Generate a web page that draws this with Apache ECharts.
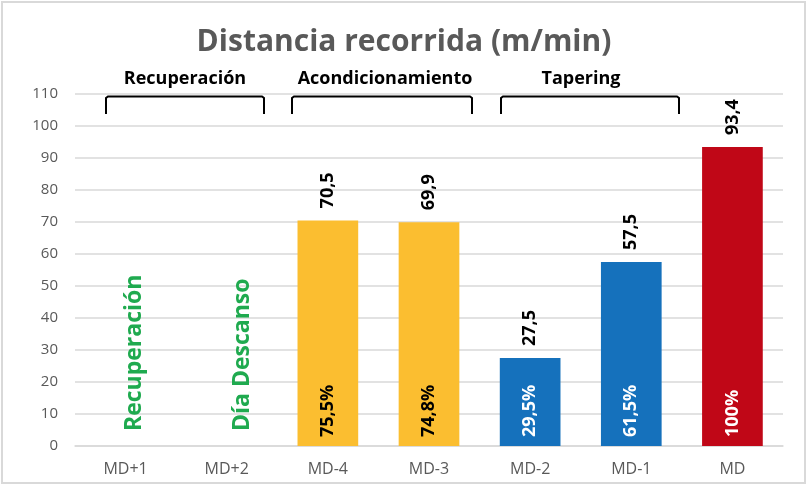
<!DOCTYPE html>
<html>
<head>
<meta charset="utf-8">
<script src="https://cdn.jsdelivr.net/npm/echarts@6/dist/echarts.min.js"></script>
<style>
  html, body { margin: 0; padding: 0; background: #fff; }
  #chart { width: 808px; height: 486px; }
</style>
</head>
<body>
<div id="chart"></div>
<script>
// data
const days = ['MD+1', 'MD+2', 'MD-4', 'MD-3', 'MD-2', 'MD-1', 'MD'];
const distance = [null, null, 70.5, 69.9, 27.5, 57.5, 93.4];
const percentOfMatch = [null, null, 75.5, 74.8, 29.5, 61.5, 100];
const dayNotes = ['Recuperación', 'Día Descanso', null, null, null, null, null];
const phases = ['Recuperación', 'Acondicionamiento', 'Tapering'];

const yTicks = { min: 0, max: 110, interval: 10 };

// styling
const FONT = 'Open Sans';
const barColors = ['#FBBE30', '#FBBE30', '#FBBE30', '#FBBE30', '#1571BC', '#1571BC', '#C00717'];
const pctTextColors = ['#000', '#000', '#000', '#000', '#fff', '#fff', '#fff'];
const noteColor = '#1FAA4F';
const noteShift = [9, 16];

const comma = (v, d) => v.toFixed(d).replace('.', ',');
const fmtPct = v => (v % 1 === 0 ? String(v) : comma(v, 1)) + '%';

const chart = echarts.init(document.getElementById('chart'));

const mainData = distance.map((v, i) => ({
  value: v,
  itemStyle: { color: barColors[i] }
}));

const overlayData = distance.map((v, i) => {
  if (v == null) {
    // label offset is in the rotated frame: second value moves it sideways
    return {
      value: 0,
      label: { formatter: dayNotes[i], color: noteColor, fontSize: 23, distance: 15, offset: [0, noteShift[i]] }
    };
  }
  return { value: v, label: { formatter: fmtPct(percentOfMatch[i]), color: pctTextColors[i] } };
});

// phase brackets (annotation only)
const brackets = [
  { x1: 106, x2: 264 },
  { x1: 292, x2: 472 },
  { x1: 501, x2: 679 }
];
const phaseTextX = [185, 385, 581];

const graphic = [
  {
    type: 'rect',
    shape: { x: 2, y: 2, width: 803, height: 481 },
    style: { fill: null, stroke: '#d9d9d9', lineWidth: 2 },
    silent: true
  }
];
brackets.forEach((b, i) => {
  graphic.push({
    type: 'polyline',
    shape: { points: [[b.x1, 114], [b.x1, 98], [b.x1 + 2, 96.5], [b.x2 - 2, 96.5], [b.x2, 98], [b.x2, 114]] },
    style: { stroke: '#000', lineWidth: 2, fill: null },
    silent: true
  });
  graphic.push({
    type: 'text',
    x: phaseTextX[i],
    y: 79,
    style: {
      text: phases[i],
      fontFamily: FONT,
      fontWeight: 'bold',
      fontSize: 18,
      fill: '#000',
      align: 'center',
      verticalAlign: 'middle'
    },
    silent: true
  });
});

chart.setOption({
  animation: false,
  textStyle: { fontFamily: FONT },
  title: {
    text: 'Distancia recorrida (m/min)',
    left: 'center',
    top: 22,
    textStyle: { fontFamily: FONT, fontSize: 30, fontWeight: 'bold', color: '#595959' }
  },
  grid: { left: 75, right: 25, top: 94, bottom: 40 },
  xAxis: {
    type: 'category',
    data: days,
    axisTick: { show: false },
    axisLine: { lineStyle: { color: '#d9d9d9', width: 1.5 } },
    axisLabel: { color: '#595959', fontSize: 16, margin: 15, fontFamily: FONT }
  },
  yAxis: {
    type: 'value',
    min: yTicks.min,
    max: yTicks.max,
    interval: yTicks.interval,
    axisLine: { show: false },
    axisTick: { show: false },
    splitLine: { lineStyle: { color: '#d9d9d9', width: 1.5 } },
    axisLabel: { color: '#595959', fontSize: 15, margin: 17, fontFamily: FONT }
  },
  series: [
    {
      name: 'distancia',
      type: 'bar',
      data: mainData,
      barCategoryGap: '40%',
      label: {
        show: true,
        position: 'top',
        rotate: 90,
        align: 'left',
        verticalAlign: 'middle',
        distance: 12,
        fontFamily: FONT,
        fontWeight: 'bold',
        fontSize: 18,
        color: '#000',
        formatter: p => (p.value == null ? '' : comma(p.value, 1))
      }
    },
    {
      name: 'porcentaje',
      type: 'bar',
      data: overlayData,
      barGap: '-100%',
      barCategoryGap: '40%',
      itemStyle: { color: 'rgba(0,0,0,0)' },
      z: 3,
      label: {
        show: true,
        position: 'insideBottom',
        rotate: 90,
        align: 'left',
        verticalAlign: 'middle',
        distance: 9,
        fontFamily: FONT,
        fontWeight: 'bold',
        fontSize: 18
      }
    }
  ],
  graphic
});
</script>
</body>
</html>
